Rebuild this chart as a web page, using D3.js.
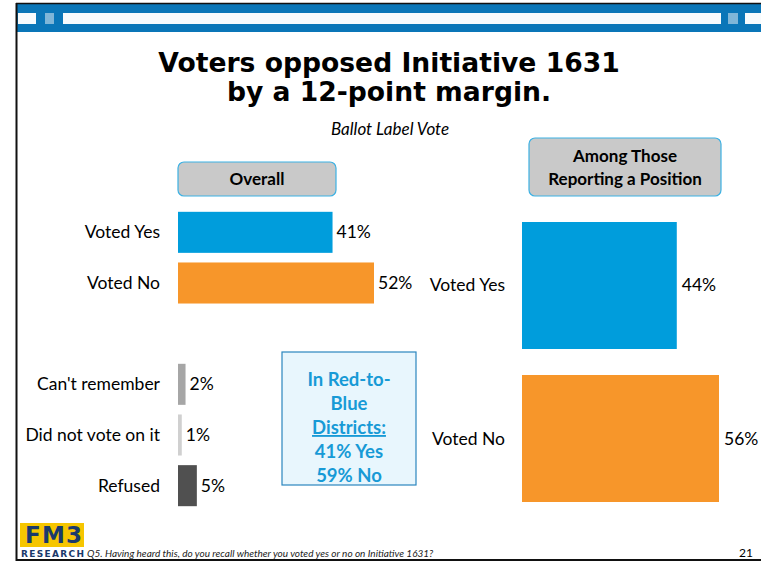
<!DOCTYPE html>
<html><head><meta charset="utf-8">
<script src="https://cdn.jsdelivr.net/npm/d3@7"></script>
<style>
html,body{margin:0;padding:0;background:#fff;}
svg{display:block;}
</style></head>
<body>
<svg id="c" width="761" height="562"></svg>
<script>
// ---- data ----
const overallCats = ["Voted Yes", "Voted No", "", "Can't remember", "Did not vote on it", "Refused"];
const overallVals = [41, 52, null, 2, 1, 5];
const overallColors = ["#009ddc", "#f7962a", null, "#a6a6a6", "#d0d0d0", "#505050"];
const posCats = ["Voted Yes", "Voted No"];
const posVals = [44, 56];
const posColors = ["#009ddc", "#f7962a"];
const titleLines = ["Voters opposed Initiative 1631", "by a 12-point margin."];
const subtitle = "Ballot Label Vote";
const calloutLines = ["In Red-to-", "Blue", "Districts:", "41% Yes", "59% No"];
const footnote = "Q5. Having heard this, do you recall whether you voted yes or no on Initiative 1631?";
const pageNum = "21";

const svg = d3.select("#c");
const font = "Lato, 'Open Sans', sans-serif";
const fs = 17.5;

// ---- frame ----
svg.append("rect").attr("x",16).attr("y",3).attr("width",745).attr("height",29).attr("fill","#0a76b8");
svg.append("line").attr("x1",16).attr("x2",761).attr("y1",3.5).attr("y2",3.5).attr("stroke","#111").attr("stroke-width",1.5);
svg.append("line").attr("x1",16.5).attr("x2",16.5).attr("y1",3).attr("y2",561).attr("stroke","#111").attr("stroke-width",2);
svg.append("line").attr("x1",16).attr("x2",761).attr("y1",560).attr("y2",560).attr("stroke","#111").attr("stroke-width",2);
[[18,36],[63,721],[745,761]].forEach(([a,b])=>svg.append("rect").attr("x",a).attr("y",13).attr("width",b-a).attr("height",11).attr("fill","#f7fbfd"));
[[45,54],[728,738]].forEach(([a,b])=>svg.append("rect").attr("x",a).attr("y",13).attr("width",b-a).attr("height",11).attr("fill","#7fb6d8"));

// ---- title ----
svg.append("g").selectAll("text").data(titleLines).join("text")
  .attr("x",389).attr("y",(d,i)=>72+i*29).attr("text-anchor","middle")
  .attr("font-family","'DejaVu Sans', Verdana, sans-serif").attr("font-weight","bold").attr("font-size",26.6)
  .attr("fill","#000").text(d=>d);
svg.append("text").attr("x",390).attr("y",135).attr("text-anchor","middle")
  .attr("font-family",font).attr("font-style","italic").attr("font-size",17).text(subtitle);

// ---- header boxes ----
function hbox(x,y,w,h,lines){
  svg.append("rect").attr("x",x).attr("y",y).attr("width",w).attr("height",h).attr("rx",6)
    .attr("fill","#c9c9c9").attr("stroke","#3cb1e3").attr("stroke-width",1.2);
  const n=lines.length;
  svg.append("g").selectAll("text").data(lines).join("text")
    .attr("x",x+w/2).attr("y",(d,i)=>y+h/2+(i-(n-1)/2)*23+6).attr("text-anchor","middle")
    .attr("font-family",font).attr("font-weight","bold").attr("font-size",17).text(d=>d);
}
hbox(178,162,158,34,["Overall"]);
hbox(529,138,192,58,["Among Those","Reporting a Position"]);

// ---- left chart ----
const x1 = d3.scaleLinear().domain([0,52]).range([178,374]);
const y1 = d3.scaleBand().domain(overallCats.map((d,i)=>i)).range([207,511]).paddingInner(0.19).paddingOuter(0.095);
const g1 = svg.append("g");
const rows1 = overallCats.map((c,i)=>({c,v:overallVals[i],col:overallColors[i],i})).filter(d=>d.v!==null);
g1.selectAll("rect").data(rows1).join("rect")
  .attr("x",x1(0)).attr("y",d=>y1(d.i)).attr("width",d=>x1(d.v)-x1(0)).attr("height",y1.bandwidth())
  .attr("fill",d=>d.col);
g1.selectAll("text.v").data(rows1).join("text").attr("class","v")
  .attr("x",d=>x1(d.v)+4).attr("y",d=>y1(d.i)+y1.bandwidth()/2+6)
  .attr("font-family",font).attr("font-size",fs).text(d=>d.v+"%");
g1.selectAll("text.c").data(rows1).join("text").attr("class","c")
  .attr("x",160).attr("y",d=>y1(d.i)+y1.bandwidth()/2+6).attr("text-anchor","end")
  .attr("font-family",font).attr("font-size",fs).text(d=>d.c);

// ---- right chart ----
const x2 = d3.scaleLinear().domain([0,56]).range([522,719]);
const y2 = d3.scaleBand().domain(posCats).range([206.7,517.3]).paddingInner(0.17).paddingOuter(0.1);
const g2 = svg.append("g");
const rows2 = posCats.map((c,i)=>({c,v:posVals[i],col:posColors[i]}));
g2.selectAll("rect").data(rows2).join("rect")
  .attr("x",x2(0)).attr("y",d=>y2(d.c)).attr("width",d=>x2(d.v)-x2(0)).attr("height",y2.bandwidth())
  .attr("fill",d=>d.col);
g2.selectAll("text.v").data(rows2).join("text").attr("class","v")
  .attr("x",d=>x2(d.v)+5).attr("y",d=>y2(d.c)+y2.bandwidth()/2+6)
  .attr("font-family",font).attr("font-size",fs).text(d=>d.v+"%");
g2.selectAll("text.c").data(rows2).join("text").attr("class","c")
  .attr("x",505).attr("y",d=>y2(d.c)+y2.bandwidth()/2+6).attr("text-anchor","end")
  .attr("font-family",font).attr("font-size",fs).text(d=>d.c);

// ---- callout ----
svg.append("rect").attr("x",282).attr("y",352).attr("width",134).attr("height",133)
  .attr("fill","#e8f6fd").attr("stroke","#2a86bf").attr("stroke-width",1.2);
svg.append("g").selectAll("text").data(calloutLines).join("text")
  .attr("x",349).attr("y",(d,i)=>386+i*24).attr("text-anchor","middle")
  .attr("font-family",font).attr("font-weight","bold").attr("font-size",18.5).attr("fill","#179ad6")
  .attr("text-decoration",(d,i)=>i===2?"underline":null).text(d=>d);

// ---- footer ----
svg.append("rect").attr("x",20).attr("y",523).attr("width",64).attr("height",24).attr("fill","#f6c600");
svg.append("text").attr("x",25).attr("y",543).attr("font-family","'DejaVu Sans', sans-serif")
  .attr("font-weight","bold").attr("font-size",23).attr("fill","#1b3a6b")
  .attr("textLength",57).attr("lengthAdjust","spacing").text("FM3");
svg.append("text").attr("x",21).attr("y",557).attr("font-family","'DejaVu Sans', sans-serif")
  .attr("font-weight","bold").attr("font-size",9).attr("fill","#1b3a6b")
  .attr("textLength",63).attr("lengthAdjust","spacing").text("RESEARCH");
svg.append("text").attr("x",87).attr("y",557).attr("font-family",font).attr("font-style","italic")
  .attr("font-size",10).attr("fill","#222").text(footnote);
svg.append("text").attr("x",753).attr("y",557).attr("text-anchor","end").attr("font-family",font)
  .attr("font-size",12).text(pageNum);
</script>
</body></html>
